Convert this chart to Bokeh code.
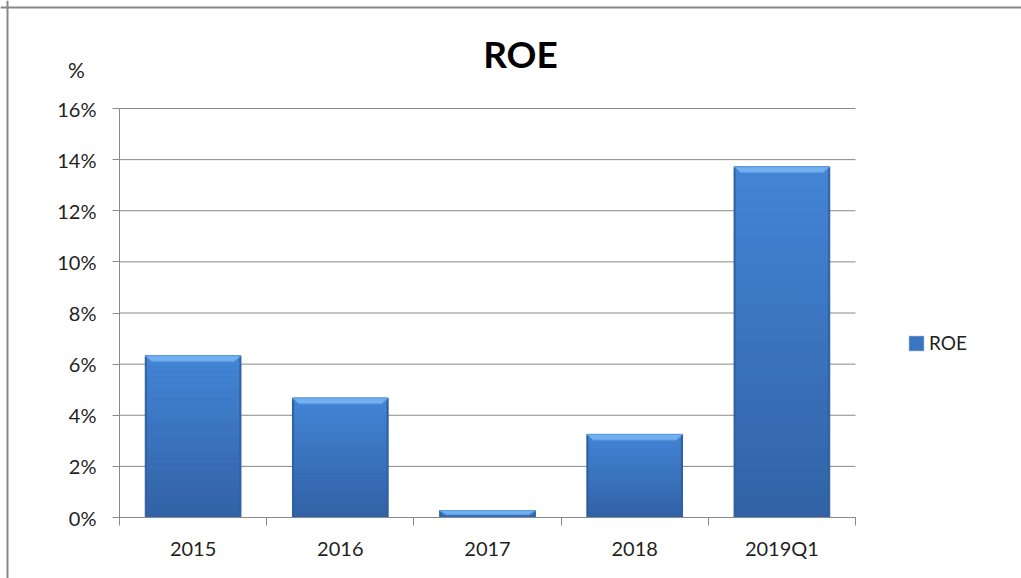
from bokeh.plotting import figure
from bokeh.models import (FixedTicker, PrintfTickFormatter, Label, Legend, LegendItem,
                          Range1d, LinearAxis, Span)
from bokeh.embed import file_html
from bokeh.resources import INLINE

# ---- data ----
categories = ["2015", "2016", "2017", "2018", "2019Q1"]
roe = [6.33, 4.67, 0.27, 3.25, 13.72]
y_ticks = [0, 2, 4, 6, 8, 10, 12, 14, 16]
title_text = "ROE"
y_unit = "%"
series_name = "ROE"

# ---- layout / style constants (pixels) ----
W, H = 1021, 578
PL, PR, PT, PB = 119, 855, 108, 517      # plot-area edges
Y_MIN, Y_MAX = 0, 16
FONT = "Lato"
GRID = "#898989"
TXT = "#1f1f1f"
BAR_W = 0.65

n = len(categories)
xpx = (PR - PL) / n
ypx = (PB - PT) / (Y_MAX - Y_MIN)
x_range = Range1d(-PL / xpx, n + (W - PR) / xpx)
y_range = Range1d(Y_MIN - (H - PB) / ypx, Y_MAX + PT / ypx)

p = figure(width=W, height=H, output_backend="svg", toolbar_location=None,
           x_range=x_range, y_range=y_range, x_axis_type=None, y_axis_type=None,
           min_border=0)
p.outline_line_color = None
p.background_fill_color = "white"
p.border_fill_color = "white"
p.grid.visible = False

# chart border (top & left)
p.add_layout(Span(location=H - 7, location_units="screen", dimension="width",
                  line_color="#878787", line_width=2))
p.add_layout(Span(location=7, location_units="screen", dimension="height",
                  line_color="#878787", line_width=2))

x_pos = [i + 0.5 for i in range(n)]

# gridlines
p.segment(x0=[0] * len(y_ticks), x1=[n] * len(y_ticks), y0=y_ticks, y1=y_ticks,
          line_color=GRID, line_width=1)

# ---- bars (gradient imitation) ----
def mix(c1, c2, t):
    a = [int(c1[i:i + 2], 16) for i in (1, 3, 5)]
    b = [int(c2[i:i + 2], 16) for i in (1, 3, 5)]
    return "#%02x%02x%02x" % tuple(round(a[k] + (b[k] - a[k]) * t) for k in range(3))

p.vbar(x=x_pos, top=roe, bottom=0, width=BAR_W, fill_color="#2f5f9f",
       line_color="#2f5f9f", line_width=1)

N = 30
BOT, TOP = "#3262a6", "#4385d6"
band_renderers = []
for k in range(N):
    t0, t1 = k / N, (k + 1) / N
    c = mix(BOT, TOP, (t0 + t1) / 2)
    r = p.vbar(x=x_pos, bottom=[v * t0 for v in roe], top=[v * t1 for v in roe],
               width=BAR_W - 0.025, fill_color=c, line_color=c, line_width=0.6)
    band_renderers.append(r)

# top bevel
bevel_xs, bevel_ys = [], []
for x, v in zip(x_pos, roe):
    h = min(0.22, v * 0.6)
    hw = BAR_W / 2
    inset = 0.045
    bevel_xs.append([x - hw, x + hw, x + hw - inset, x - hw + inset])
    bevel_ys.append([v, v, v - h, v - h])
p.patches(bevel_xs, bevel_ys, fill_color="#72b0ef", line_color="#5e9de2", line_width=1)

# ---- axes ----
yaxis = LinearAxis(fixed_location=0, bounds=(Y_MIN, Y_MAX))
yaxis.ticker = FixedTicker(ticks=y_ticks)
yaxis.formatter = PrintfTickFormatter(format="%d%%")
yaxis.axis_line_color = GRID
yaxis.major_tick_line_color = GRID
yaxis.major_tick_out = 7
yaxis.major_tick_in = 0
yaxis.minor_tick_line_color = None
yaxis.major_label_text_font = FONT
yaxis.major_label_text_font_size = "20px"
yaxis.major_label_text_color = TXT
yaxis.major_label_standoff = 16
p.add_layout(yaxis, "left")

xaxis = LinearAxis(fixed_location=0, bounds=(0, n))
xaxis.ticker = FixedTicker(ticks=x_pos, minor_ticks=list(range(n + 1)))
xaxis.major_label_overrides = {x: c for x, c in zip(x_pos, categories)}
xaxis.axis_line_color = GRID
xaxis.major_tick_line_color = None
xaxis.major_tick_out = 0
xaxis.major_tick_in = 0
xaxis.minor_tick_line_color = GRID
xaxis.minor_tick_out = 8
xaxis.minor_tick_in = 0
xaxis.major_label_text_font = FONT
xaxis.major_label_text_font_size = "20px"
xaxis.major_label_text_color = TXT
xaxis.major_label_standoff = 10
p.add_layout(xaxis, "below")

# ---- legend (uses a mid-gradient band of the bars) ----
legend = Legend(items=[LegendItem(label=series_name, renderers=[band_renderers[N // 2]])],
                location=(907, H - 354), orientation="vertical",
                border_line_color=None, background_fill_alpha=0,
                padding=0, margin=0, glyph_width=18, glyph_height=18,
                label_standoff=4, label_height=18,
                label_text_font=FONT, label_text_font_size="19px",
                label_text_color=TXT)
p.add_layout(legend, "center")

# title and unit label
p.add_layout(Label(x=520, y=H - 53, x_units="screen", y_units="screen", text=title_text,
                   text_font=FONT, text_font_style="bold", text_font_size="37px",
                   text_color="#000000", text_align="center", text_baseline="middle"))
p.add_layout(Label(x=76, y=H - 69, x_units="screen", y_units="screen", text=y_unit,
                   text_font=FONT, text_font_size="21px", text_color=TXT,
                   text_align="center", text_baseline="middle"))

open("out.html", "w").write(file_html(p, INLINE))
